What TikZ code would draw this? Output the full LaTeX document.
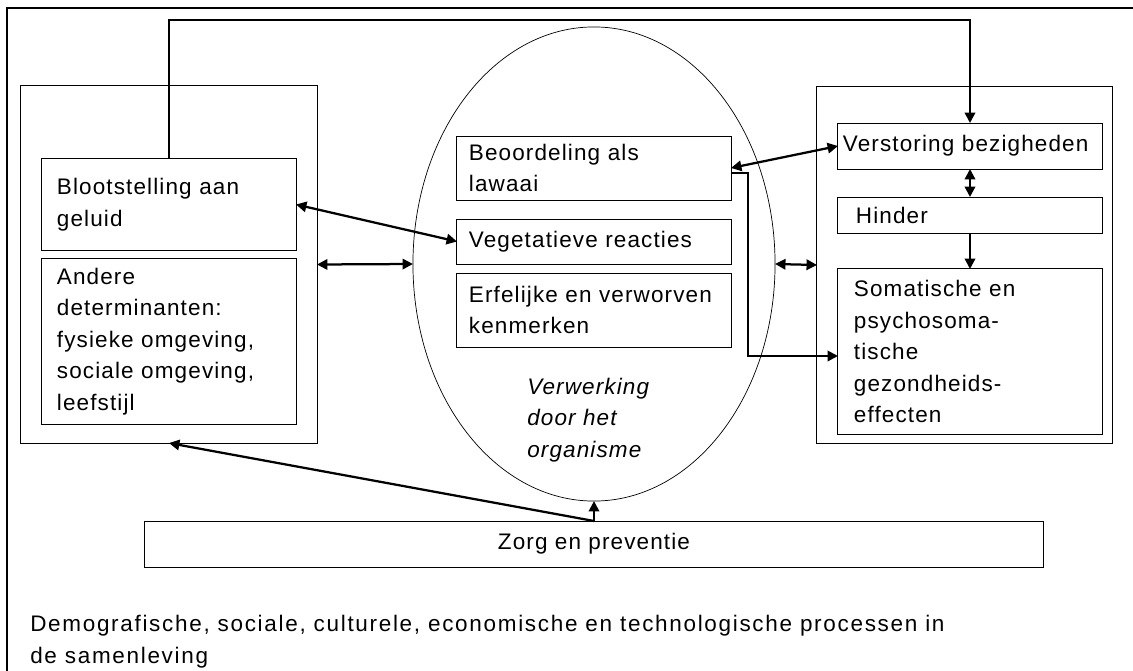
\documentclass[tikz,border=0pt]{standalone}
\usepackage{fontspec}
\setmainfont{Liberation Sans}[LetterSpace=5]
\usetikzlibrary{shapes.geometric,arrows.meta}

\tikzset{
	kader/.style={draw, line width=0.7pt, rectangle, align=left, inner ysep=0pt, outer sep=0pt},
	pijl/.style={line width=1.6pt, -{Triangle[length=0.26cm,width=0.26cm]}},
	dubbel/.style={line width=1.6pt, {Triangle[length=0.26cm,width=0.26cm]}-{Triangle[length=0.26cm,width=0.26cm]}},
}

\begin{document}
\begin{tikzpicture}[x=0.025cm, y=-0.025cm, font=\fontsize{16}{22.4}\selectfont]
	\useasboundingbox (0,0) rectangle (1133,671);
	\draw[line width=1pt] (7,671) -- (7,8) -- (1133,8);
	% links
	\node[kader, minimum width=7.4cm, minimum height=8.925cm] (links) at (169,264.5) {};
	\node[kader, inner xsep=0.375cm, text width=5.6cm, minimum height=2.275cm] (bloot) at (169,204.5) {Blootstelling aan\\geluid};
	\node[kader, inner xsep=0.375cm, text width=5.6cm, minimum height=4.125cm] (andere) at (169,341.5) {Andere\\determinanten:\\fysieke omgeving,\\sociale omgeving,\\leefstijl};
	% midden
	\node[draw, ellipse, line width=0.5pt, inner sep=0pt, outer sep=0pt, minimum width=9.05cm, minimum height=11.85cm] (org) at (594,264) {};
	\node[kader, inner xsep=0.3cm, text width=6.25cm, minimum height=1.6cm] (beoord) at (594,168) {Beoordeling als\\lawaai};
	\node[kader, inner xsep=0.3cm, text width=6.25cm, minimum height=1.125cm] (veget) at (594,241.5) {Vegetatieve reacties};
	\node[kader, inner xsep=0.3cm, text width=6.25cm, minimum height=1.85cm] (erf) at (594,310) {Erfelijke en verworven\\kenmerken};
	\node[align=left, anchor=west, inner sep=0pt, font=\fontsize{16}{22.4}\selectfont\itshape] (verwerking) at (527,420) {Verwerking\\door het\\organisme};
	% rechts
	\node[kader, minimum width=7.375cm, minimum height=8.9cm] (rechts) at (964.5,265) {};
	\node[kader, inner xsep=0.125cm, text width=6.35cm, minimum height=1.15cm] (verst) at (970,146) {Verstoring bezigheden};
	\node[kader, inner xsep=0.45cm, text width=5.7cm, minimum height=0.9cm] (hinder) at (970,215) {Hinder};
	\node[kader, inner xsep=0.4cm, text width=5.8cm, minimum height=4.125cm] (somat) at (970,351.5) {Somatische en\\psychosoma-\\tische\\gezondheids-\\effecten};
	% onder
	\node[kader, align=center, minimum width=22.45cm, minimum height=1.15cm] (zorg) at (594,544) {Zorg en preventie};
	\node[align=left, anchor=west, inner sep=0pt, font=\fontsize{16}{22.4}\selectfont\addfontfeature{LetterSpace=7.5}] (samenleving) at (30,641.5) {Demografische, sociale, culturele, economische en technologische processen in\\de samenleving};
	% verbindingen
	\coordinate (boven) at (0,20);
	\coordinate (knik) at (748,356);
	\draw[pijl] (bloot.north) -- (bloot.north |- boven) -| (verst.north);
	\draw[dubbel] (bloot.east) -- (veget.west);
	\draw[dubbel] (links.east) -- (org.west);
	\draw[dubbel] (org.east) -- (rechts.west);
	\draw[dubbel] (beoord.east) -- (verst.west);
	\draw[pijl] ([yshift=-0.125cm]beoord.east) -| (knik) -- (knik -| somat.west);
	\draw[dubbel] (verst.south) -- (hinder.north);
	\draw[pijl] (hinder.south) -- (somat.north);
	\draw[pijl] (zorg.north) -- (org.south);
	\draw[pijl] (zorg.north) -- (links.south);
\end{tikzpicture}
\end{document}
